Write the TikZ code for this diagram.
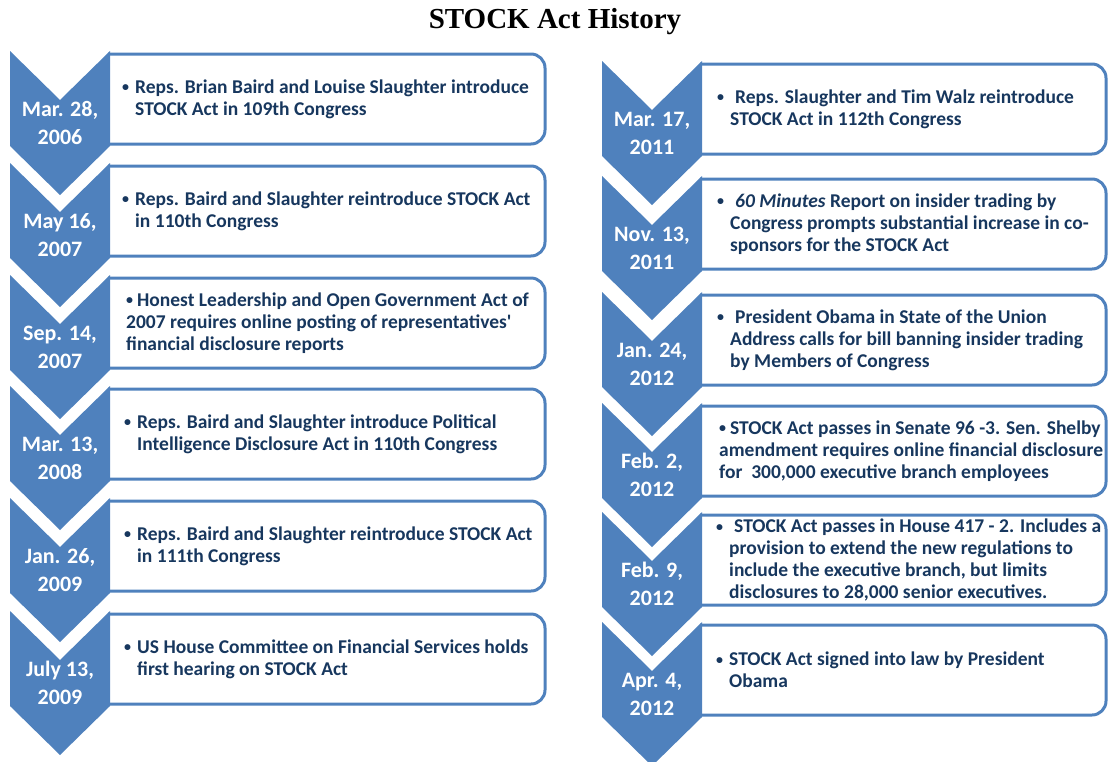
\documentclass[tikz,border=0pt]{standalone}
\usepackage{fontspec}
\setmainfont{Carlito}
\newfontfamily\titlefont{Liberation Serif}
\definecolor{stockblue}{RGB}{79,129,189}
\definecolor{stocknavy}{RGB}{23,55,94}
\tikzset{
  chevfill/.style={fill=stockblue},
  boxline/.style={draw=stockblue, line width=3pt, rounded corners=14pt},
  datetext/.style={text=white, font=\bfseries\fontsize{22}{28}\selectfont, align=center, inner sep=0pt},
  bodytext/.style={text=stocknavy, font=\bfseries\fontsize{19.5}{22}\selectfont, align=left, inner sep=0pt, anchor=west}
}
\newcommand{\bul}{\raisebox{1.5pt}{\fontsize{14}{14}\selectfont\textbullet}}
\newcommand{\hb}{\llap{\bul\hspace{6pt}}}
% one row: name, chevron left, top, box right, date, text x, text
\newcommand{\stockrow}[7]{%
  \draw[boxline] (#2+98,#3+3) -- (#4,#3+3) -- (#4,#3+93) -- (#2+98,#3+93);
  \fill[chevfill] (#2,#3) -- (#2+50,#3+49) -- (#2+100,#3) -- (#2+100,#3+95)
    -- (#2+50,#3+144) -- (#2,#3+95) -- cycle;
  \node[datetext] (#1d) at (#2+50,#3+72) {#5};
  \node[bodytext] (#1t) at (#6,#3+48) {#7};
}

\begin{document}
\begin{tikzpicture}[x=1pt, y=-1pt]
    \useasboundingbox (0,0) rectangle (1108,761);
    \node[anchor=base] (title) at (555,28) {\titlefont\bfseries\fontsize{29}{34}\selectfont STOCK Act History};

    % left column
    \stockrow{a}{10}{51}{545}{Mar. 28,\\2006}{135}{\hb Reps. Brian Baird and Louise Slaughter introduce\\STOCK Act in 109th Congress}
    \stockrow{b}{10}{163}{545}{May 16,\\2007}{135}{\hb Reps. Baird and Slaughter reintroduce STOCK Act\\in 110th Congress}
    \stockrow{c}{10}{275}{545}{Sep. 14,\\2007}{126}{\bul\hspace{4pt}Honest Leadership and Open Government Act of\\2007 requires online posting of representatives\textquotesingle\\financial disclosure reports}
    \stockrow{d}{10}{386}{545}{Mar. 13,\\2008}{137}{\hb Reps. Baird and Slaughter introduce Political\\Intelligence Disclosure Act in 110th Congress}
    \stockrow{e}{10}{498}{545}{Jan. 26,\\2009}{137}{\hb Reps. Baird and Slaughter reintroduce STOCK Act\\in 111th Congress}
    \stockrow{f}{10}{611}{545}{July 13,\\2009}{137}{\hb US House Committee on Financial Services holds\\first hearing on STOCK Act}

    % right column
    \stockrow{g}{602}{61}{1106}{Mar. 17,\\2011}{730}{\hb\hspace{5pt}Reps. Slaughter and Tim Walz reintroduce\\STOCK Act in 112th Congress}
    \stockrow{h}{602}{176}{1106}{Nov. 13,\\2011}{730}{\hb\hspace{5pt}\textit{60 Minutes} Report on insider trading by\\Congress prompts substantial increase in co-\\sponsors for the STOCK Act}
    \stockrow{i}{602}{292}{1106}{Jan. 24,\\2012}{730}{\hb\hspace{5pt}President Obama in State of the Union\\Address calls for bill banning insider trading\\by Members of Congress}
    \stockrow{j}{602}{403}{1106}{Feb. 2,\\2012}{719}{\bul\hspace{4pt}STOCK Act passes in Senate 96 -3. Sen. Shelby\\amendment requires online financial disclosure\\for\ \ 300,000 executive branch employees}
    \stockrow{k}{602}{512}{1106}{Feb. 9,\\2012}{729}{\hb\hspace{5pt}STOCK Act passes in House 417 - 2. Includes a\\provision to extend the new regulations to\\include the executive branch, but limits\\disclosures to 28,000 senior executives.}
    \stockrow{l}{602}{622}{1106}{Apr. 4,\\2012}{729}{\hb STOCK Act signed into law by President\\Obama}
\end{tikzpicture}
\end{document}
